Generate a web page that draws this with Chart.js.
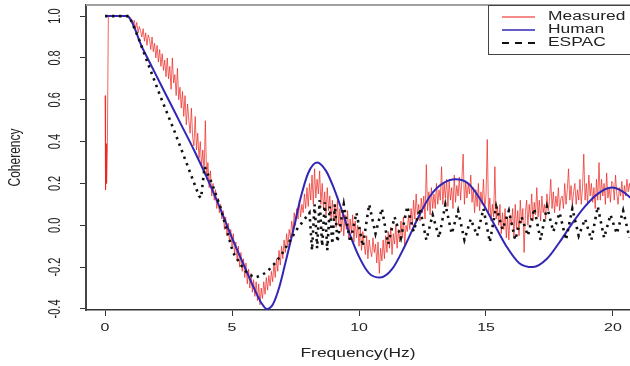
<!DOCTYPE html>
<html>
<head>
<meta charset="utf-8">
<script src="https://cdn.jsdelivr.net/npm/chart.js@4.4.1/dist/chart.umd.min.js"></script>
<style>
  html, body { margin: 0; padding: 0; background: #fff; }
  #wrap { width: 630px; height: 366px; position: relative; }
</style>
</head>
<body>
<div id="wrap"><canvas id="coherencyChart"></canvas></div>
<script>
// --- axis ticks / names ---
const xTickValues = [0, 5, 10, 15, 20];
const yTickValues = [-0.4, -0.2, 0.0, 0.2, 0.4, 0.6, 0.8, 1.0];
const yTickLabels = ['-0.4', '-0.2', '0.0', '0.2', '0.4', '0.6', '0.8', '1.0'];
const seriesNames = ['Measured', 'Human', 'ESPAC'];

// --- Measured: spike at the start, then values every 0.05 Hz from 0.2 Hz ---
const measuredHeadFreq = [0, 0.02, 0.04, 0.06, 0.09, 0.13, 0.17];
const measuredHeadVals = [0.62, 0.17, 0.39, 0.2, 0.36, 1.0, 1.0];
const measuredGridStart = 0.2;
const measuredGridStep = 0.05;
const measuredGridVals = [
  1, 1, 1, 1, 1, 1, 1, 1, 1, 1, 1, 1, 1, 1, 1, 1,                       // 0.2 - 0.95
  0.99, 0.97, 0.96, 0.98, 0.94, 0.97, 0.92, 0.95, 0.93, 0.9,            // 1.0
  0.94, 0.88, 0.92, 0.86, 0.91, 0.89, 0.84, 0.9, 0.83, 0.87,            // 1.5
  0.8, 0.86, 0.78, 0.84, 0.76, 0.82, 0.74, 0.79, 0.71, 0.8,             // 2.0
  0.7, 0.76, 0.65, 0.8, 0.68, 0.72, 0.62, 0.75, 0.6, 0.66,              // 2.5
  0.56, 0.64, 0.52, 0.62, 0.48, 0.58, 0.5, 0.44, 0.56, 0.42,            // 3.0
  0.38, 0.52, 0.36, 0.44, 0.32, 0.4, 0.28, 0.36, 0.25, 0.5,             // 3.5
  0.22, 0.3, 0.18, 0.26, 0.14, 0.2, 0.12, 0.17, 0.08, 0.13,             // 4.0
  0.06, 0.1, 0.03, 0.07, -0.02, 0.04, -0.05, 0.01, -0.08, -0.02,        // 4.5
  -0.1, -0.04, -0.14, -0.08, -0.17, -0.1, -0.2, -0.13, -0.22, -0.16,    // 5.0
  -0.25, -0.18, -0.28, -0.21, -0.3, -0.23, -0.32, -0.26, -0.34, -0.27,  // 5.5
  -0.36, -0.28, -0.38, -0.3, -0.35, -0.27, -0.33, -0.25, -0.31, -0.24,  // 6.0
  -0.29, -0.22, -0.27, -0.18, -0.25, -0.16, -0.22, -0.12, -0.19, -0.1,  // 6.5
  -0.16, -0.07, -0.13, -0.04, -0.1, -0.02, -0.06, 0.02, -0.03, 0.06,    // 7.0
  0.0, 0.08, 0.03, 0.12, 0.04, 0.1, 0.06, 0.15, 0.08, 0.18,             // 7.5
  0.09, 0.2, 0.12, 0.24, 0.1, 0.27, 0.13, 0.22, 0.15, 0.26,             // 8.0
  0.1, 0.2, 0.08, 0.16, 0.05, 0.18, 0.07, 0.14, 0.03, 0.12,             // 8.5
  0.02, 0.1, -0.01, 0.12, 0.0, 0.08, -0.03, 0.06, -0.05, 0.05,          // 9.0
  -0.02, 0.07, -0.06, 0.03, -0.04, 0.05, -0.08, 0.02, -0.06, 0.0,       // 9.5
  -0.1, -0.01, -0.12, -0.03, -0.09, -0.14, -0.05, -0.16, -0.07, -0.12,  // 10.0
  -0.15, -0.06, -0.13, -0.09, -0.18, -0.08, -0.23, -0.11, -0.17, -0.07, // 10.5
  -0.16, -0.05, -0.13, -0.03, -0.11, -0.01, -0.14, -0.04, -0.09, 0.0,   // 11.0
  -0.11, -0.02, -0.08, 0.02, -0.06, 0.04, -0.1, 0.0, -0.03, 0.05,       // 11.5
  -0.02, 0.08, 0.0, 0.12, 0.03, 0.15, 0.05, 0.1, 0.02, 0.13,            // 12.0
  0.06, 0.14, 0.03, 0.29, 0.07, 0.16, 0.05, 0.18, 0.08, 0.15,           // 12.5
  0.08, 0.2, 0.1, 0.17, 0.12, 0.28, 0.1, 0.2, 0.13, 0.22,               // 13.0
  0.09, 0.21, 0.12, 0.18, 0.08, 0.24, 0.11, 0.19, 0.14, 0.23,           // 13.5
  0.12, 0.22, 0.34, 0.1, 0.21, 0.13, 0.2, 0.15, 0.24, 0.11,             // 14.0
  0.18, 0.06, 0.17, 0.09, 0.2, 0.07, 0.16, 0.1, 0.22, 0.08,             // 14.5
  0.14, 0.41, 0.05, 0.13, 0.02, 0.1, 0.04, 0.28, 0.03, 0.09,            // 15.0
  0.0, 0.1, -0.04, 0.06, -0.02, 0.08, -0.06, 0.04, -0.07, 0.05,         // 15.5
  0.0, 0.08, -0.06, 0.1, -0.02, 0.07, -0.05, 0.12, 0.01, 0.08,          // 16.0
  -0.13, 0.06, 0.12, 0.0, 0.1, 0.03, 0.15, 0.02, 0.11, 0.05,            // 16.5
  0.18, 0.04, 0.12, 0.02, 0.14, 0.06, 0.1, 0.03, 0.15, 0.07,            // 17.0
  0.12, 0.22, 0.08, 0.16, 0.06, 0.14, 0.09, 0.18, 0.07, 0.13,           // 17.5
  0.14, 0.08, 0.2, 0.1, 0.17, 0.27, 0.12, 0.19, 0.1, 0.16,              // 18.0
  0.2, 0.1, 0.17, 0.12, 0.22, 0.1, 0.18, 0.34, 0.12, 0.2,               // 18.5
  0.1, 0.24, 0.14, 0.2, 0.11, 0.18, 0.08, 0.22, 0.12, 0.3,              // 19.0
  0.12, 0.22, 0.14, 0.2, 0.1, 0.25, 0.13, 0.18, 0.11, 0.21,             // 19.5
  0.2, 0.12, 0.24, 0.15, 0.1, 0.18, 0.14, 0.21, 0.12, 0.19,             // 20.0
  0.14, 0.22, 0.16, 0.2, 0.15                                           // 20.5 - 20.7
];

// --- Human (smooth model curve) ---
const humanFreq = [0, 0.85, 1.5, 2.0, 2.5, 3.0, 3.5, 4.0, 4.5, 5.0, 5.5, 5.9, 6.15, 6.37, 6.6, 6.85,
  7.1, 7.4, 7.7, 8.0, 8.35, 8.7, 9.0, 9.3, 9.6, 10.0, 10.4, 10.83, 11.3, 11.8, 12.3, 12.8, 13.3,
  13.8, 14.3, 14.8, 15.3, 15.8, 16.3, 16.85, 17.4, 17.9, 18.4, 18.9, 19.4, 19.95, 20.4, 20.8];
const humanVals = [1.0, 1.0, 0.84, 0.72, 0.6, 0.48, 0.36, 0.23, 0.09, -0.06, -0.2, -0.31, -0.37, -0.4, -0.38, -0.3,
  -0.18, -0.03, 0.13, 0.25, 0.3, 0.26, 0.18, 0.08, -0.03, -0.15, -0.23, -0.25, -0.21, -0.1, 0.03, 0.14, 0.2,
  0.22, 0.2, 0.12, 0.01, -0.1, -0.18, -0.2, -0.16, -0.08, 0.01, 0.09, 0.15, 0.18, 0.16, 0.12];

// --- ESPAC (dotted) ---
const espacFreq = [0, 0.95, 1.3, 1.7, 2.2, 2.7, 3.2, 3.7, 3.78, 3.92, 4.21, 4.53, 5.04, 5.35, 5.6, 5.9,
  6.15, 6.4, 6.7, 6.95, 7.25, 7.55, 7.8, 8.05,
  8.15, 8.25, 8.35, 8.45, 8.55, 8.65, 8.75, 8.85, 8.95, 9.05, 9.15];
const espacVals = [1.0, 1.0, 0.9, 0.77, 0.61, 0.46, 0.3, 0.14, 0.13, 0.28, 0.2, 0.09, -0.13, -0.19, -0.23, -0.25,
  -0.24, -0.22, -0.18, -0.14, -0.08, -0.02, 0.02, 0.06,
  -0.12, 0.1, -0.11, 0.12, -0.1, 0.11, -0.12, 0.09, -0.09, 0.1, -0.08];
const espacTailStart = 9.4;
const espacTailStep = 0.25;
const espacTailVals = [
  0.1, -0.08, 0.06, -0.1, 0.1, -0.04, 0.08, -0.09, 0.04, -0.06,
  0.09, -0.03, 0.08, -0.07, 0.05, -0.06, 0.1, -0.04, 0.07, -0.07,
  0.03, -0.05, 0.08, -0.08, 0.09, -0.02, 0.07, -0.07, 0.04, -0.05,
  0.08, -0.07, 0.09, -0.03, 0.06, -0.07, 0.08, -0.05, 0.03, -0.07,
  0.09, -0.06, 0.05, -0.04, 0.07, -0.06
];

const RED = 'rgba(235,35,30,0.7)';
const BLUE = '#3227b5';
const BLACK = '#111';

function pairs(fs, vs) { return fs.map((f, i) => ({ x: f, y: vs[i] })); }
function gridPairs(start, step, vs) { return vs.map((v, i) => ({ x: +(start + i * step).toFixed(3), y: v })); }

const measuredPoints = pairs(measuredHeadFreq, measuredHeadVals)
  .concat(gridPairs(measuredGridStart, measuredGridStep, measuredGridVals));
const humanPoints = pairs(humanFreq, humanVals);
const espacPoints = pairs(espacFreq, espacVals)
  .concat(gridPairs(espacTailStart, espacTailStep, espacTailVals));

// R-like text is a bit wide in the picture
const SX = 1.45;
const FONT = '"Liberation Sans", Arial, sans-serif';

function wideText(ctx, txt, x, y, size, upright, align) {
  ctx.save();
  ctx.translate(x, y);
  ctx.scale(SX, 1);
  if (upright) ctx.rotate(-Math.PI / 2);
  ctx.font = size + 'px ' + FONT;
  ctx.fillStyle = '#222';
  ctx.textAlign = align || 'center';
  ctx.textBaseline = 'middle';
  ctx.fillText(txt, 0, 0);
  ctx.restore();
}

const rDecor = {
  id: 'rDecor',
  beforeDraw(chart) {
    const ctx = chart.ctx;
    ctx.save();
    ctx.fillStyle = '#fff';
    ctx.fillRect(0, 0, chart.width, chart.height);
    ctx.restore();
  },
  afterDraw(chart) {
    const ctx = chart.ctx;
    const a = chart.chartArea;
    const xs = chart.scales.x, ys = chart.scales.y;

    // top frame line (grey)
    ctx.save();
    ctx.strokeStyle = '#a0a0a0';
    ctx.lineWidth = 2;
    ctx.beginPath();
    ctx.moveTo(a.left, a.top);
    ctx.lineTo(a.right, a.top);
    ctx.stroke();
    ctx.restore();

    // tick labels
    xTickValues.forEach(v => wideText(ctx, String(v), xs.getPixelForValue(v), 328, 11, false));
    yTickValues.forEach((v, i) => wideText(ctx, yTickLabels[i], 56, ys.getPixelForValue(v), 11, true));

    // axis titles
    wideText(ctx, 'Frequency(Hz)', (a.left + a.right) / 2, 354, 12, false);
    wideText(ctx, 'Coherency', 15, (a.top + a.bottom) / 2, 12, true);

    // legend box
    const lx = 488, ly = a.top, lh = 49;
    ctx.save();
    ctx.fillStyle = '#fff';
    ctx.fillRect(lx, ly, 160, lh);
    ctx.strokeStyle = '#444';
    ctx.lineWidth = 1;
    ctx.strokeRect(lx + 0.5, ly + 0.5, 160, lh);
    const rows = [
      { c: RED, w: 1.5, dash: [] },
      { c: BLUE, w: 1.5, dash: [] },
      { c: BLACK, w: 2, dash: [7, 6] }
    ];
    rows.forEach((r, i) => {
      const y = ly + 12 + i * 13;
      ctx.strokeStyle = r.c;
      ctx.lineWidth = r.w;
      ctx.setLineDash(r.dash);
      ctx.beginPath();
      ctx.moveTo(502, y);
      ctx.lineTo(535, y);
      ctx.stroke();
    });
    ctx.setLineDash([]);
    ctx.restore();
    seriesNames.forEach((n, i) => wideText(ctx, n, 548, ly + 12 + i * 13, 12, false, 'left'));
  }
};

new Chart(document.getElementById('coherencyChart').getContext('2d'), {
  type: 'line',
  data: {
    datasets: [
      { label: seriesNames[0], data: measuredPoints, borderColor: RED, borderWidth: 1,
        pointRadius: 0, tension: 0, order: 3 },
      { label: seriesNames[1], data: humanPoints, borderColor: BLUE, borderWidth: 2,
        pointRadius: 0, cubicInterpolationMode: 'monotone', order: 2 },
      { label: seriesNames[2], data: espacPoints, borderColor: BLACK, borderWidth: 2.6,
        borderDash: [2.4, 4.6], pointRadius: 0, tension: 0, order: 1 }
    ]
  },
  options: {
    responsive: true,
    maintainAspectRatio: false,
    animation: false,
    layout: { padding: { left: 80, right: 0, top: 5, bottom: 50 } },
    plugins: { legend: { display: false }, tooltip: { enabled: false } },
    scales: {
      x: {
        type: 'linear', min: -0.75, max: 20.67,
        afterBuildTicks: s => { s.ticks = xTickValues.map(v => ({ value: v })); },
        grid: { display: true, drawOnChartArea: false, drawTicks: true, tickLength: 6, color: '#333', lineWidth: 1 },
        border: { display: true, color: '#333', width: 1.5 },
        ticks: { display: false }
      },
      y: {
        type: 'linear', min: -0.405, max: 1.053,
        afterBuildTicks: s => { s.ticks = yTickValues.map(v => ({ value: v })); },
        grid: { display: true, drawOnChartArea: false, drawTicks: true, tickLength: 6, color: '#333', lineWidth: 1 },
        border: { display: true, color: '#444', width: 2 },
        ticks: { display: false }
      }
    }
  },
  plugins: [rDecor]
});
</script>
</body>
</html>
